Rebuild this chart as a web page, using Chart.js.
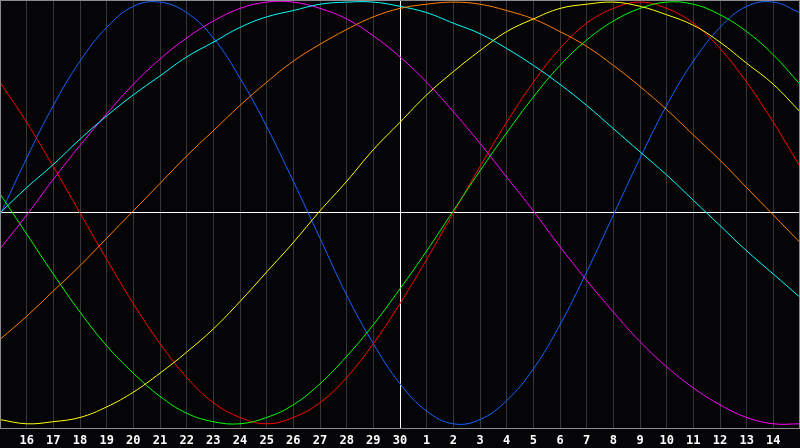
<!DOCTYPE html>
<html>
<head>
<meta charset="utf-8">
<style>
  html, body { margin: 0; padding: 0; background: #050508; }
  #wrap { width: 800px; height: 448px; }
</style>
<script src="https://cdn.jsdelivr.net/npm/chart.js@4/dist/chart.umd.min.js"></script>
</head>
<body>
<div id="wrap"><canvas id="bioChart"></canvas></div>
<script>
// day labels, 15th of one month to the 15th of the next
const days = ['15','16','17','18','19','20','21','22','23','24','25','26','27','28','29','30',
              '1','2','3','4','5','6','7','8','9','10','11','12','13','14','15'];

// curve values (-1 .. +1)
const blueVals = [-0.01,0.26,0.51,0.72,0.88,0.98,1.00,0.95,0.83,0.64,0.41,0.15,-0.12,-0.39,-0.62,-0.81,
                  -0.94,-1.00,-0.98,-0.89,-0.74,-0.53,-0.28,-0.01,0.26,0.51,0.72,0.88,0.98,1.00,0.95];
const redVals = [0.62,0.43,0.22,0.00,-0.22,-0.43,-0.62,-0.78,-0.90,-0.97,-1.00,-0.97,-0.90,-0.78,-0.62,-0.43,
                 -0.22,0.00,0.22,0.43,0.62,0.78,0.90,0.97,1.00,0.97,0.90,0.78,0.62,0.43,0.22];
const greenVals = [0.09,-0.10,-0.29,-0.47,-0.63,-0.76,-0.87,-0.95,-0.99,-1.00,-0.97,-0.91,-0.81,-0.68,-0.53,-0.36,
                   -0.18,0.01,0.20,0.38,0.55,0.70,0.82,0.91,0.97,1.00,0.99,0.94,0.86,0.75,0.61];
const magentaVals = [-0.17,-0.01,0.16,0.32,0.47,0.61,0.73,0.83,0.91,0.97,1.00,1.00,0.97,0.92,0.84,0.74,
                     0.62,0.48,0.33,0.17,0.01,-0.16,-0.32,-0.47,-0.61,-0.73,-0.83,-0.91,-0.97,-1.00,-1.00];
const cyanVals = [0.00,0.12,0.23,0.35,0.46,0.56,0.65,0.74,0.81,0.88,0.93,0.96,0.99,1.00,1.00,0.98,
                  0.95,0.90,0.85,0.78,0.70,0.61,0.51,0.40,0.29,0.18,0.06,-0.06,-0.18,-0.29,-0.40];
const orangeVals = [-0.60,-0.49,-0.37,-0.25,-0.12,0.01,0.14,0.27,0.39,0.51,0.62,0.72,0.80,0.87,0.93,0.97,
                    0.99,1.00,0.99,0.96,0.92,0.86,0.79,0.70,0.60,0.49,0.37,0.25,0.12,-0.01,-0.14];
const yellowVals = [-0.98,-1.00,-0.99,-0.97,-0.92,-0.85,-0.76,-0.66,-0.55,-0.42,-0.28,-0.14,0.01,0.15,0.30,0.43,
                    0.56,0.67,0.77,0.86,0.92,0.97,0.99,1.00,0.98,0.94,0.89,0.81,0.71,0.61,0.48];

function line(data, color) {
    return {
        data: data,
        borderColor: color,
        borderWidth: 1,
        pointRadius: 0,
        pointHoverRadius: 0,
        fill: false,
        tension: 0.4,
        capBezierPoints: false
    };
}

// grey frame round the plot
const framePlugin = {
    id: 'frame',
    afterDraw(chart) {
        const a = chart.chartArea;
        const c = chart.ctx;
        c.save();
        c.strokeStyle = '#8c8c8c';
        c.lineWidth = 1;
        c.strokeRect(a.left + 0.5, a.top + 0.5, a.right - a.left - 1, a.bottom - a.top);
        c.restore();
    }
};

const ctx = document.getElementById('bioChart').getContext('2d');
new Chart(ctx, {
    type: 'line',
    data: {
        labels: days,
        datasets: [
            line(orangeVals, '#ff8000'),
            line(cyanVals, '#00ffff'),
            line(magentaVals, '#ff00ff'),
            line(yellowVals, '#ffff00'),
            line(greenVals, '#00ff00'),
            line(redVals, '#ff0000'),
            line(blueVals, '#1464ff')
        ]
    },
    options: {
        responsive: true,
        maintainAspectRatio: false,
        animation: false,
        layout: { padding: 0, autoPadding: false },
        scales: {
            x: {
                offset: false,
                grid: {
                    offset: false,
                    drawTicks: false,
                    color: c => c.index === 15 ? '#ffffff' : '#383838',
                    lineWidth: 1
                },
                border: { display: false },
                ticks: {
                    autoSkip: false,
                    maxRotation: 0,
                    color: '#ffffff',
                    padding: 6,
                    font: { family: 'DejaVu Sans Mono', weight: 'bold', size: 12 },
                    callback: function (val, i) {
                        return (i === 0 || i === days.length - 1) ? '' : days[i];
                    }
                },
                afterFit: s => {
                    s.height = 20;
                    s.paddingLeft = 0;
                    s.paddingRight = 0;
                }
            },
            y: {
                min: -1.02,
                max: 1.01,
                ticks: { display: false, stepSize: 1 },
                grid: {
                    drawTicks: false,
                    color: c => c.tick.value === 0 ? '#ffffff' : 'transparent'
                },
                border: { display: false },
                afterFit: s => { s.width = 0; }
            }
        },
        plugins: {
            legend: { display: false },
            tooltip: { enabled: false }
        }
    },
    plugins: [framePlugin]
});
</script>
</body>
</html>
